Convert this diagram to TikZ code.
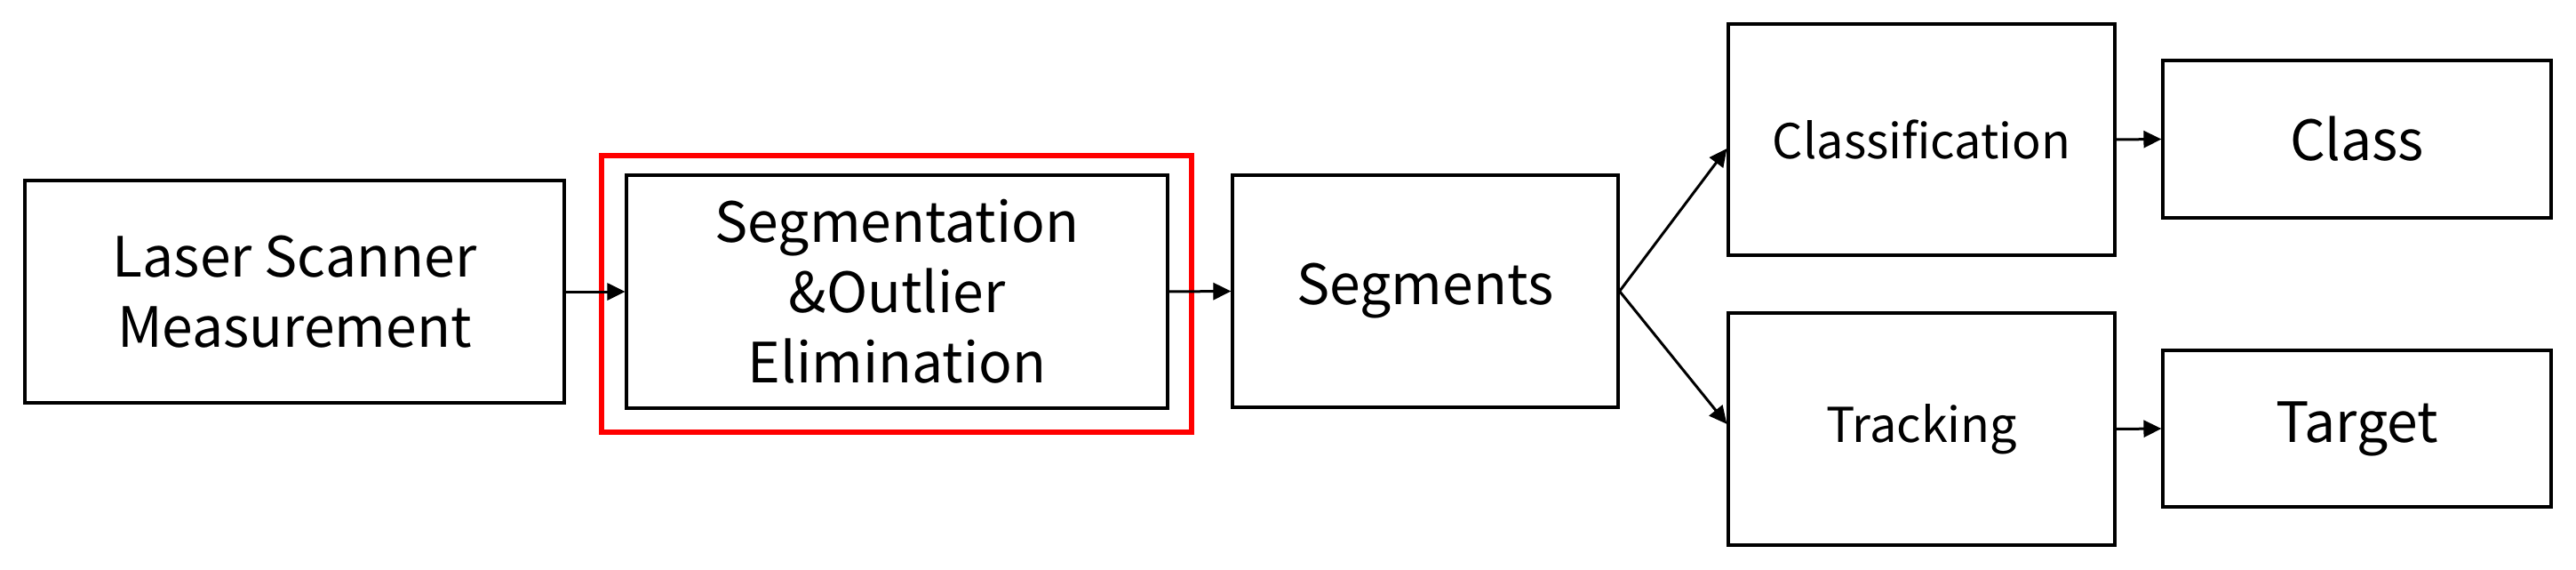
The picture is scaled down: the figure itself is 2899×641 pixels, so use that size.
\documentclass[tikz,border=0pt]{standalone}
\usepackage{fontspec}
\setmainfont{Noto Sans CJK KR}
\usetikzlibrary{arrows.meta}
\begin{document}
\begin{tikzpicture}[x=0.25pt,y=-0.25pt,
  box/.style={draw=black, line width=0.8pt, inner sep=0pt, align=center,
    font=\fontsize{15.6}{19.75}\selectfont},
  smalltext/.style={font=\fontsize{13.5}{17}\selectfont},
  redframe/.style={draw=red, line width=1.6pt, inner sep=0pt},
  arr/.style={line width=0.75pt, -{Triangle[length=5pt,width=4.75pt]}}]
\useasboundingbox (0,0) rectangle (2899,641);
\node (hl) [redframe, minimum width=166pt, minimum height=77.75pt] at (1009,330.5) {};
\node (laser) [box, minimum width=151.75pt, minimum height=62.5pt] at (331.5,328) {Laser Scanner\\Measurement};
\node (seg) [box, fill=white, minimum width=152.25pt, minimum height=65.5pt] at (1009.5,328) {Segmentation\\\&Outlier\\Elimination};
\node (segs) [box, minimum width=108.5pt, minimum height=65.25pt] at (1604,327.5) {Segments};
\node (cls) [box, smalltext, minimum width=108.75pt, minimum height=65pt] at (2162.5,157) {Classification};
\node (class) [box, minimum width=109.25pt, minimum height=44.25pt] at (2652.5,156.5) {Class};
\node (trk) [box, smalltext, minimum width=108.75pt, minimum height=65.25pt] at (2162.5,482.5) {Tracking};
\node (tgt) [box, minimum width=109.25pt, minimum height=44pt] at (2652.5,482) {Target};
\draw[arr] (laser.east) -- (seg.west);
\draw[arr] (seg.east) -- (segs.west);
\draw[arr] (segs.east) -- ([yshift=-2.5pt]cls.west);
\draw[arr] (segs.east) -- ([yshift=1.4pt]trk.west);
\draw[arr] (cls.east) -- (class.west);
\draw[arr] (trk.east) -- (tgt.west);
\end{tikzpicture}
\end{document}
